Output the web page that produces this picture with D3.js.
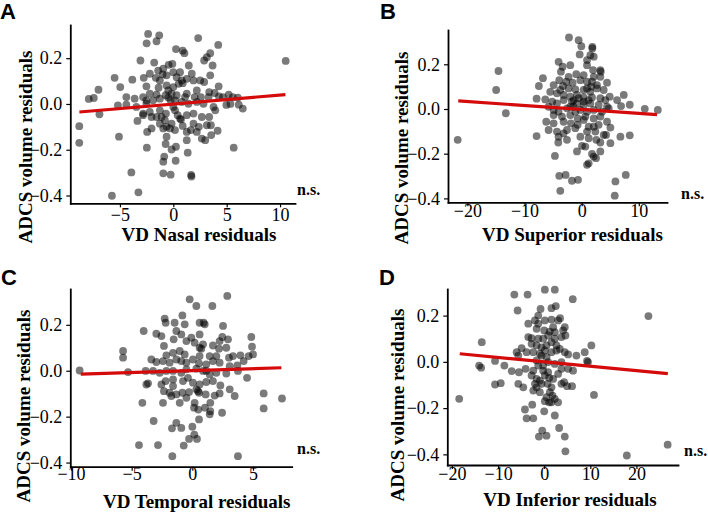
<!DOCTYPE html>
<html><head><meta charset="utf-8">
<script src="https://cdn.jsdelivr.net/npm/d3@7"></script>
<style>body{margin:0;background:#fff}svg{display:block}</style>
</head><body><svg id="c" width="708" height="513"></svg>
<script>
// ---------- DATA ----------
const panelLetters = ["A", "B", "C", "D"];
const xTitles = ["VD Nasal residuals", "VD Superior residuals", "VD Temporal residuals", "VD Inferior residuals"];
const yTitle = "ADCS volume residuals";
const sigLabel = "n.s.";
const yTickValues = [-0.4, -0.2, 0, 0.2];
const xTicksNasal = [-5, 0, 5, 10];
const xTicksSuperior = [-20, -10, 0, 10];
const xTicksTemporal = [-10, -5, 0, 5];
const xTicksInferior = [-20, -10, 0, 10, 20];

const nasalPts = [
[-2.36,0.306],[-1.32,0.30],[-2.5,0.265],[-1.57,0.274],[2.33,0.288],[0.25,0.24],[0.88,0.233],[1.04,0.222],[4.21,0.258],[3.46,0.222],[2.89,0.19],[3.14,0.204],[3.68,0.168],[-3.08,0.19],[-1.79,0.181],[-0.44,0.171],[-0.09,0.175],[1.45,0.168],[10.53,0.188],
[-5.5,0.114],[-3.84,0.106],[-2.77,0.114],[-2.2,0.132],[-1.42,0.146],[-0.94,0.154],[-1.0,0.129],[-1.64,0.114],[-1.26,0.103],[-0.63,0.125],[0,0.139],[0.63,0.139],[0.31,0.117],[0.79,0.103],[1.26,0.11],[1.89,0.103],[2.52,0.103],[3.46,0.125],[4.25,0.077],[1.73,0.132],
[-7.01,0.062],[-7.92,0.022],[-7.45,0.026],[-4.97,0.074],[-2.52,0.077],[-1.38,0.071],[-0.63,0.081],[0,0.074],[0.5,0.088],[0.88,0.091],[2.2,0.059],[3.36,0.052],[3.87,0.048],[-2.2,0.045],[-1.57,0.041],[-0.72,0.038],[-0.16,0.045],[0.31,0.038],[1.26,0.045],[2.58,0.03],[3.3,0.03],[4.28,0.033],[4.65,0.03],[5.19,0.041],[5.57,0.03],[6.04,0.028],[-4.4,0.03],[-3.62,0.023],
[-5.19,-0.006],[-4.4,-0.003],[-3.46,-0.013],[-2.52,0.001],[-1.89,0.016],[-1.26,0.023],[-0.47,0.028],[0.16,0.016],[0.79,0.009],[1.42,0.001],[2.2,0.009],[2.83,0.001],[3.77,-0.013],[4.97,-0.004],[6.13,-0.003],[6.51,-0.02],[-6.92,-0.045],[-2.83,-0.042],[-2.2,-0.035],[-1.26,-0.028],[-0.69,-0.042],[0,-0.013],
[-3.36,-0.074],[-2.83,-0.049],[-2.04,-0.057],[-1.1,-0.057],[-0.79,-0.071],[-0.16,-0.086],[0.63,-0.064],[0.72,-0.068],[1.26,-0.049],[1.89,-0.042],[2.67,-0.057],[3.36,-0.057],[3.93,-0.028],
[-8.81,-0.097],[-2.04,-0.107],[-1.26,-0.086],[-0.94,-0.107],[-0.63,-0.1],[-0.31,-0.107],[0.16,-0.114],[0.88,-0.096],[1.64,-0.114],[1.89,-0.086],[2.39,-0.1],[3.14,-0.093],[3.52,-0.093],[4.15,-0.117],[-2.45,-0.122],
[-5.09,-0.143],[-0.63,-0.143],[1.26,-0.122],[2.2,-0.122],[2.67,-0.151],[2.99,-0.158],[3.55,-0.136],[-8.81,-0.17],[-2.48,-0.191],[-0.72,-0.175],[-0.16,-0.199],[0.25,-0.187],[1.26,-0.158],[5.66,-0.191],
[-0.94,-0.252],[-0.85,-0.23],[0.22,-0.248],[1.35,-0.213],[-3.93,-0.299],[-0.94,-0.303],[-0.25,-0.309],[1.67,-0.31],[1.7,-0.317],[-3.27,-0.386],[-5.75,-0.401],
[-0.47,0.059],[-0.25,0.016],[0.16,-0.028],[0.41,-0.049],[1.1,0.03],[-1.57,-0.057],[-2.52,0.016],[-2.83,0.03],[2.0,0.03],[2.89,0.096],[5.35,0.0]
];

const superiorPts = [
[-21.7,-0.138],[-14.56,0.17],[-14.97,0.085],[-13.27,-0.019],[-7.49,0.103],[-7.89,0.046],[-7.89,-0.121],[-2.22,0.32],[-0.53,0.308],[-0.06,0.281],[1.87,0.278],[1.87,0.271],[1.52,0.241],[-0.35,0.244],[2.11,0.234],[-4.04,0.211],[-3.33,0.189],[-1.99,0.196],[0.94,0.219],[0.94,0.196],[1.99,0.174],[3.27,0.174],[3.33,0.167],[-3.63,0.167],[-0.94,0.156],[0.35,0.152],[2.11,0.144],[3.27,0.144],[-6.78,0.138],[-3.92,0.129],[-2.69,0.122],[-1.58,0.118],[-0.23,0.129],[0.94,0.122],[1.64,0.1],[2.69,0.107],[4.44,0.118],[-4.91,0.107],[-3.27,0.103],[-2.28,0.092],[-1.11,0.088],[0.35,0.085],[1.52,0.077],[2.69,0.092],[3.86,0.085],[4.91,0.055],[-5.5,0.077],[-4.33,0.07],[-3.16,0.063],[-1.99,0.055],[-0.82,0.063],[0.35,0.052],[1.81,0.052],[3.27,0.048],[4.15,0.04],[6.2,0.04],[7.37,0.063],[8.42,0.019],[6.9,0.013],[11.05,0.001],[13.33,-0.004],
[-6.37,0.043],[-5.15,0.033],[-4.33,0.025],[-3.16,0.04],[-1.7,0.033],[-0.82,0.025],[0.35,0.033],[1.52,0.025],[2.98,0.018],[4.44,0.01],[-5.79,0.01],[-4.91,-0.004],[-4.04,-0.012],[-2.57,0.003],[-1.4,0.01],[-0.23,-0.004],[0.94,-0.012],[2.11,-0.004],[3.57,-0.012],[4.74,0.003],
[-4.91,-0.027],[-3.45,-0.034],[-1.99,-0.027],[-0.7,-0.042],[0.64,-0.034],[2.11,-0.042],[3.27,-0.034],[-6.2,-0.057],[-4.91,-0.064],[-3.16,-0.057],[-1.87,-0.064],[-0.7,-0.071],[1.23,-0.079],[2.98,-0.071],[4.44,-0.057],[5.03,-0.083],
[-5.79,-0.094],[-4.33,-0.101],[-2.57,-0.094],[-1.11,-0.086],[0.94,-0.101],[2.4,-0.101],[3.86,-0.116],[4.27,-0.116],[6.78,-0.124],[8.42,-0.118],[-4.04,-0.124],[-3.16,-0.109],[-0.23,-0.124],[1.23,-0.131],[2.57,-0.138],[3.27,-0.15],[5.03,-0.153],[-4.09,-0.15],[-2.57,-0.138],[0.06,-0.165],[0.64,-0.168],[3.27,-0.19],[-0.82,-0.19],[-4.68,-0.21],[1.81,-0.201],[2.11,-0.213],[0.94,-0.25],[1.23,-0.243],[2.51,-0.22],
[-3.92,-0.299],[-2.81,-0.295],[-1.7,-0.321],[-0.64,-0.317],[-3.74,-0.366],[5.91,-0.324],[7.72,-0.295],[5.79,-0.388],
[-1.4,0.04],[-0.53,0.048],[0.35,0.018],[1.23,0.04],[-1.11,-0.012],[-1.99,0.01],[-3.74,0.085],[-2.28,0.144],[0.94,0.092],[1.81,0.122],[0.35,-0.049],[2.11,-0.079]
];

const temporalPts = [
[-9.29,0.001],[-5.71,0.086],[-5.71,0.057],[-5.3,-0.006],[-4.01,0.173],[-4.12,-0.14],[-4.4,-0.324],[-3.19,-0.219],[-2.83,-0.324],[-1.65,-0.372],[-3.65,-0.055],
[-0.22,0.311],[0.33,0.282],[2.88,0.326],[1.65,0.282],[-0.82,0.241],[0.6,0.209],[0.93,0.209],[1.02,0.202],[2.53,0.195],[-2.28,0.227],[-2.2,0.209],[-1.46,0.209],[-0.63,0.202],[-2.97,0.161],[-2.55,0.151],[-1.32,0.173],[-0.91,0.158],[-0.08,0.144],[0.6,0.158],[2.47,0.147],[4.86,0.147],
[-2.34,0.108],[-1.54,0.137],[-0.49,0.129],[0.19,0.122],[0.88,0.115],[1.7,0.11],[2.25,0.129],[2.94,0.137],[2.8,0.1],[2.2,0.096],[4.92,0.105],[5.0,0.071],[4.64,0.064],[3.96,0.067],
[-2.14,0.067],[-1.59,0.078],[-1.04,0.086],[-0.63,0.071],[0.6,0.1],[0.74,0.096],[1.43,0.064],[1.98,0.064],[3.02,0.057],[3.35,0.064],
[-3.38,0.049],[-2.97,0.038],[-2.42,0.042],[-1.87,0.035],[-1.32,0.049],[-0.91,0.042],[-0.49,0.035],[0.05,0.049],[0.55,0.032],[1.15,0.028],[1.7,0.042],[2.25,0.035],[3.08,0.02],[3.71,0.023],[4.23,0.042],
[-3.85,-0.001],[-3.24,-0.001],[-2.69,-0.009],[-2.14,-0.001],[-1.59,-0.001],[-0.91,-0.009],[-0.49,0.006],[0.33,0.009],[0.88,-0.001],[1.43,-0.016],[1.98,-0.009],[2.8,-0.012],[3.76,-0.001],[4.51,-0.031],
[-3.79,-0.06],[-2.55,-0.06],[-2.2,-0.045],[-1.59,-0.038],[-0.77,-0.045],[-0.36,-0.031],[0.05,-0.052],[0.6,-0.06],[1.15,-0.049],[1.7,-0.045],[2.31,-0.064],[3.08,-0.081],
[-2.34,-0.089],[-1.87,-0.096],[-1.32,-0.103],[-0.82,-0.096],[-0.27,-0.093],[0.33,-0.081],[0.55,-0.096],[1.1,-0.103],[1.84,-0.108],[2.25,-0.099],[3.49,-0.11],[-2.42,-0.14],[-1.73,-0.11],[-0.49,-0.118],[0.47,-0.089],[-1.04,-0.14],[0.19,-0.14],[0.14,-0.161],[0.49,-0.169],[1.04,-0.161],[1.43,-0.19],[1.48,-0.176],[2.45,-0.183],[0.55,-0.212],
[5.88,-0.099],[7.39,-0.121],[5.88,-0.164],[-1.68,-0.251],[-1.32,-0.227],[-0.91,-0.249],[0.0,-0.244],[-0.27,-0.297],[0.38,-0.297],[-0.71,-0.326],[3.76,-0.372],
[0.16,-0.278],[1.48,-0.14],[0.6,0.064],[1.15,-0.001],[-1.59,-0.067]
];

const inferiorPts = [
[-18.42,-0.16],[-13.53,0.085],[-14.1,-0.016],[-13.67,-0.025],[-10.65,0.004],[-10.65,-0.098],[-9.42,-0.092],[-8.63,-0.016],[-7.05,-0.04],
[-6.47,0.291],[-3.6,0.291],[0.14,0.312],[2.3,0.312],[6.19,0.271],[-5.76,0.222],[-0.79,0.229],[1.58,0.232],[2.52,0.241],[3.45,0.189],
[-3.45,0.165],[-2.01,0.179],[-1.29,0.165],[0.14,0.179],[1.58,0.183],[3.02,0.179],[4.46,0.15],[-1.65,0.143],[0.0,0.136],[1.22,0.131],[2.3,0.128],[4.1,0.136],[4.6,0.114],
[-3.45,0.107],[-2.73,0.102],[-1.29,0.1],[-0.22,0.1],[0.86,0.114],[2.3,0.1],[3.74,0.107],[-2.73,0.078],[-1.65,0.071],[-0.58,0.063],[0.5,0.071],[1.58,0.085],[2.66,0.071],[3.38,0.056],
[-4.89,0.059],[-5.97,0.042],[-5.61,0.027],[-3.81,0.042],[-2.37,0.042],[-0.94,0.035],[0.14,0.049],[1.58,0.042],[2.66,0.049],[4.46,0.042],[5.18,0.032],[6.98,0.027],[8.78,0.042],[10.22,0.071],[9.28,0.004],[9.5,-0.001],[22.59,0.198],
[-5.47,-0.045],[-4.03,-0.03],[-2.37,-0.038],[-1.29,-0.016],[-0.22,-0.016],[0.86,-0.001],[2.3,-0.009],[3.74,-0.001],[5.18,-0.03],[6.26,-0.038],
[-2.73,-0.059],[-1.65,-0.074],[-0.94,-0.081],[0.14,-0.059],[1.08,-0.069],[1.94,-0.074],[3.02,-0.052],[4.32,-0.088],
[-2.01,-0.095],[-0.58,-0.095],[0.72,-0.095],[1.58,-0.11],[3.74,-0.095],[4.96,-0.105],[6.04,-0.105],[-4.53,-0.11],[-5.61,-0.095],[-2.37,-0.124],[-0.94,-0.131],[1.8,-0.146],[10.79,-0.143],
[0.14,-0.17],[1.08,-0.175],[1.58,-0.175],[2.3,-0.16],[3.02,-0.175],
[-4.17,-0.206],[-3.81,-0.244],[-2.37,-0.244],[-2.59,-0.185],[0.0,-0.214],[2.3,-0.232],[3.24,-0.286],[-1.15,-0.323],[-0.43,-0.297],[0.5,-0.319],[4.46,-0.323],[4.6,-0.387],[17.91,-0.405],[26.76,-0.358],
[-0.58,0.027],[0.5,0.02],[-1.65,0.006],[-0.22,-0.038],[0.86,-0.045],[-1.65,-0.11],[1.94,0.15],[-1.29,0.2],[3.74,-0.03],[1.22,-0.131],[0.5,-0.153]
];

// fitted regression line end points [x, y]
const fitNasal = [[-8.8, -0.035], [10.5, 0.041]];
const fitSuperior = [[-21.6, 0.036], [13.2, -0.025]];
const fitTemporal = [[-9.2, -0.015], [7.34, 0.013]];
const fitInferior = [[-18.3, 0.035], [26.8, -0.051]];

const allPts = [nasalPts, superiorPts, temporalPts, inferiorPts];
const allFits = [fitNasal, fitSuperior, fitTemporal, fitInferior];
const allXTicks = [xTicksNasal, xTicksSuperior, xTicksTemporal, xTicksInferior];

// ---------- LAYOUT (pixel positions only) ----------
const layout = [
  {x0:70.3, x1:295, yTop:25, yBot:203.3, xDom:[-9.65,11.4], yDom:[-0.434,0.345], xTickBase:221, xTitleX:199, xTitleY:241, yTitleX:32, yTitleY:147, lbX:0, lbY:19, nsX:297, nsY:195},
  {x0:448, x1:667, yTop:30, yBot:202.3, xDom:[-23.4,14.94], yDom:[-0.4175,0.3535], xTickBase:217, xTitleX:572.5, xTitleY:241, yTitleX:408, yTitleY:148, lbX:380, lbY:19, nsX:681, nsY:199},
  {x0:70.3, x1:291.7, yTop:289, yBot:466.7, xDom:[-10.06,8.19], yDom:[-0.418,0.356], xTickBase:480, xTitleX:196.7, xTitleY:508, yTitleX:30, yTitleY:406, lbX:1, lbY:285, nsX:297, nsY:454},
  {x0:447.3, x1:678, yTop:289, yBot:465, xDom:[-21.0,29.0], yDom:[-0.446,0.315], xTickBase:480, xTitleX:570, xTitleY:506, yTitleX:404, yTitleY:405, lbX:379, lbY:285, nsX:684, nsY:456}
];

const SERIF = "'Liberation Serif','Times New Roman',Times,serif";
const SANS = "'Liberation Sans',Arial,Helvetica,sans-serif";
const fmtY = v => (v < 0 ? "\u2212" : "") + Math.abs(v).toFixed(1);
const fmtX = v => (v < 0 ? "\u2212" : "") + Math.abs(v);

const svg = d3.select("#c");

layout.forEach((L, i) => {
  const g = svg.append("g");
  const x = d3.scaleLinear().domain(L.xDom).range([L.x0, L.x1]);
  const y = d3.scaleLinear().domain(L.yDom).range([L.yBot, L.yTop]);

  // points
  g.append("g").selectAll("circle").data(allPts[i]).join("circle")
    .attr("cx", d => x(d[0])).attr("cy", d => y(d[1])).attr("r", 3.9)
    .attr("fill", "#000").attr("fill-opacity", 0.52);

  // regression line
  g.append("line")
    .attr("x1", x(allFits[i][0][0])).attr("y1", y(allFits[i][0][1]))
    .attr("x2", x(allFits[i][1][0])).attr("y2", y(allFits[i][1][1]))
    .attr("stroke", "#d50a0a").attr("stroke-width", 3.2);

  // y axis
  const ya = g.append("g").attr("transform", `translate(${L.x0},0)`)
    .call(d3.axisLeft(y).tickValues(yTickValues).tickFormat(fmtY).tickSize(4).tickPadding(4).tickSizeOuter(0));
  // x axis
  const xa = g.append("g").attr("transform", `translate(0,${L.yBot})`)
    .call(d3.axisBottom(x).tickValues(allXTicks[i]).tickFormat(fmtX).tickSize(4).tickSizeOuter(0));

  [ya, xa].forEach(a => {
    a.attr("font-family", SERIF).attr("font-size", 18);
    a.select(".domain").attr("stroke", "#000").attr("stroke-width", 1.8).attr("stroke-linecap", "square");
    a.selectAll(".tick line").attr("stroke", "#000").attr("stroke-width", 1.2);
    a.selectAll(".tick text").attr("fill", "#000").style("font-family", SERIF).style("font-size", "18px");
  });
  xa.selectAll(".tick text").attr("y", L.xTickBase - L.yBot).attr("dy", 0);

  // x title
  g.append("text").attr("x", L.xTitleX).attr("y", L.xTitleY).attr("text-anchor", "middle")
    .style("font-family", SERIF).style("font-size", "19px").style("font-weight", "bold")
    .text(xTitles[i]);
  // y title
  g.append("text").attr("transform", `translate(${L.yTitleX},${L.yTitleY}) rotate(-90)`)
    .attr("text-anchor", "middle")
    .style("font-family", SERIF).style("font-size", "19px").style("font-weight", "bold")
    .text(yTitle);
  // n.s.
  g.append("text").attr("x", L.nsX).attr("y", L.nsY)
    .style("font-family", SERIF).style("font-size", "16px").style("font-weight", "bold")
    .text(sigLabel);
  // panel letter
  g.append("text").attr("x", L.lbX).attr("y", L.lbY)
    .style("font-family", SANS).style("font-size", "22px").style("font-weight", "bold")
    .text(panelLetters[i]);
});
</script>
</body></html>
